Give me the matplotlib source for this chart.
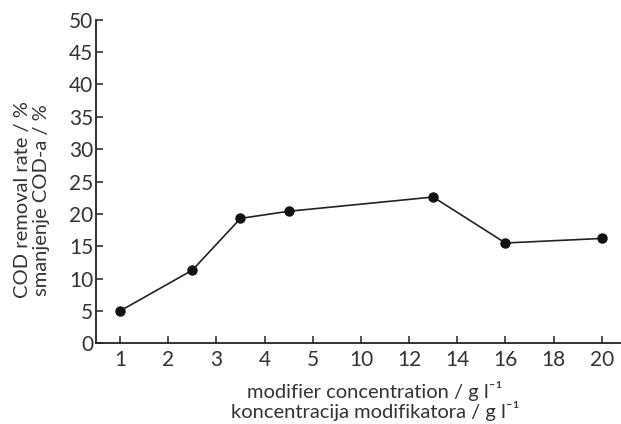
import numpy as np
import matplotlib
matplotlib.use("Agg")
import matplotlib.pyplot as plt

# Data
tick_labels = ["1", "2", "3", "4", "5", "10", "12", "14", "16", "18", "20"]
tick_values = [1, 2, 3, 4, 5, 10, 12, 14, 16, 18, 20]
concentration = [1, 2.5, 3.5, 4.5, 13, 16, 20]
cod_removal = [5.0, 11.3, 19.3, 20.4, 22.6, 15.5, 16.2]
y_ticks = [0, 5, 10, 15, 20, 25, 30, 35, 40, 45, 50]

plt.rcParams['font.family'] = ['Lato', 'DejaVu Sans']

fig = plt.figure(figsize=(6.21, 4.24), dpi=100)
ax = fig.add_axes([96/621, (424-343.3)/424, 1 - 96/621, (343.3-19.7)/424])

idx = np.arange(len(tick_values))
xpos = np.interp(concentration, tick_values, idx)

ax.plot(xpos, cod_removal, color='#222222', lw=1.2, marker='o', ms=6.5,
        mfc='#111111', mec='#111111', clip_on=False, zorder=3)

ax.set_xlim(-0.5, 10.4)
ax.set_ylim(0, 50)
ax.set_xticks(idx)
ax.set_xticklabels(tick_labels)
ax.set_yticks(y_ticks)
ax.spines['top'].set_visible(False)
ax.spines['right'].set_visible(False)
for s in ['left', 'bottom']:
    ax.spines[s].set_linewidth(1.3)
    ax.spines[s].set_color('#222222')
ax.tick_params(direction='in', length=5, width=1.1, labelsize=15, colors='#222222',
               labelcolor='#333333')
ax.tick_params(axis='x', pad=5)
ax.tick_params(axis='y', pad=2)

fig.text(32/621, (424-200)/424, "COD removal rate / %\nsmanjenje COD-a / %",
         rotation=90, ha='center', va='center', multialignment='center',
         fontsize=14.5, color='#333333', linespacing=1.1)
fig.text(375/621, (424-401)/424,
         "modifier concentration / g l⁻¹\nkoncentracija modifikatora / g l⁻¹",
         ha='center', va='center', multialignment='center',
         fontsize=14.5, color='#333333', linespacing=1.05)

fig.savefig("out.png", dpi=100)
